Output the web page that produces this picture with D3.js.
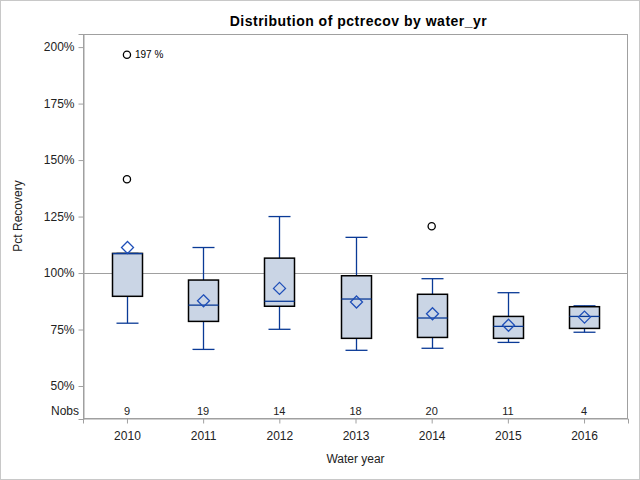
<!DOCTYPE html>
<html><head><meta charset="utf-8">
<script src="https://cdn.jsdelivr.net/npm/d3@7"></script>
<style>body{margin:0;background:#fff}svg{display:block}text{font-family:Arial,"Liberation Sans",sans-serif}</style>
</head><body><div id="chart"></div>
<script>
const years = ["2010","2011","2012","2013","2014","2015","2016"];
const nobs = [9,19,14,18,20,11,4];
const whiskerLow = [77.8,66.2,75.1,65.8,66.7,69.3,73.8];
const q1 = [89.7,78.6,85.3,71.1,71.5,71.1,75.5];
const median = [108.6,85.8,87.5,88.5,80.1,76.4,80.8];
const q3 = [108.7,96.9,106.6,98.8,90.6,80.8,85.1];
const whiskerHigh = [108.7,111.3,125.0,115.8,97.5,91.3,85.5];
const means = [111.3,87.7,93.2,87.2,82.0,76.9,80.5];
const outlierYears = ["2010","2010","2014"];
const outlierValues = [196.6,141.5,120.7];
const outlierLabels = ["197%","",""];
const yTicks = [50,75,100,125,150,175,200];
const refValue = 100;

const W=640,H=480;
const plot={l:83,r:628,t:34,b:419};
const svg=d3.select("#chart").append("svg").attr("width",W).attr("height",H);
svg.append("rect").attr("x",0.5).attr("y",0.5).attr("width",W-1).attr("height",H-1).attr("fill","#fff").attr("stroke","#c8c8c8");

const x=d3.scalePoint().domain(years).range([plot.l,plot.r]).padding(0.577);
const y=d3.scaleLinear().domain([35.4,205.8]).range([plot.b,plot.t]);

svg.append("text").attr("x",(plot.l+plot.r)/2+3).attr("y",25.5).attr("text-anchor","middle")
 .attr("font-size",14).attr("letter-spacing",0.5).attr("font-weight","bold").text("Distribution of pctrecov by water_yr");

// frame
svg.append("rect").attr("x",plot.l+0.5).attr("y",plot.t+0.5).attr("width",plot.r-plot.l-1).attr("height",plot.b-plot.t-1)
 .attr("fill","none").attr("stroke","#a0a0a0");

// reference line
svg.append("line").attr("x1",plot.l).attr("x2",plot.r).attr("y1",Math.round(y(refValue))+0.5).attr("y2",Math.round(y(refValue))+0.5)
 .attr("stroke","#a0a0a0").attr("stroke-width",1);

// axes
const yAxis=d3.axisLeft(y).tickValues(yTicks).tickFormat(d=>d+"%").tickSize(5).tickPadding(4);
const gy=svg.append("g").attr("transform",`translate(${plot.l+0.5},0)`).call(yAxis);
gy.select(".domain").attr("stroke","#a0a0a0");
gy.selectAll(".tick line").attr("stroke","#a0a0a0");
gy.selectAll(".tick text").attr("font-size",12).attr("fill","#222").attr("font-family","Arial,'Liberation Sans',sans-serif");

const xAxis=d3.axisBottom(x).tickSize(5).tickPadding(8);
const gx=svg.append("g").attr("transform",`translate(0,${plot.b-0.5})`).call(xAxis);
gx.select(".domain").attr("stroke","#a0a0a0");
gx.selectAll(".tick line").attr("stroke","#a0a0a0");
gx.selectAll(".tick text").attr("font-size",12).attr("fill","#222").attr("font-family","Arial,'Liberation Sans',sans-serif");

svg.append("text").attr("x",(plot.l+plot.r)/2).attr("y",463).attr("text-anchor","middle").attr("font-size",12).attr("fill","#222").text("Water year");
svg.append("text").attr("transform",`translate(22,216) rotate(-90)`).attr("text-anchor","middle").attr("font-size",12).attr("fill","#222").text("Pct Recovery");

// Nobs
svg.append("text").attr("x",79).attr("y",415).attr("text-anchor","end").attr("font-size",12).attr("fill","#222").text("Nobs");
svg.selectAll(".nobs").data(years).enter().append("text").attr("x",d=>x(d)).attr("y",415).attr("text-anchor","middle")
 .attr("font-size",11).attr("fill","#222").text((d,i)=>nobs[i]);

const blue="#0a3a96", bw=30, cap=22;
const g=svg.append("g");
years.forEach((yr,i)=>{
  const cx=Math.round(x(yr))+0.5;
  g.append("line").attr("x1",cx).attr("x2",cx).attr("y1",y(whiskerLow[i])).attr("y2",y(q1[i])).attr("stroke",blue).attr("stroke-width",1.3);
  g.append("line").attr("x1",cx).attr("x2",cx).attr("y1",y(whiskerHigh[i])).attr("y2",y(q3[i])).attr("stroke",blue).attr("stroke-width",1.3);
  g.append("line").attr("x1",cx-cap/2).attr("x2",cx+cap/2).attr("y1",y(whiskerLow[i])).attr("y2",y(whiskerLow[i])).attr("stroke",blue).attr("stroke-width",1.3);
  g.append("line").attr("x1",cx-cap/2).attr("x2",cx+cap/2).attr("y1",y(whiskerHigh[i])).attr("y2",y(whiskerHigh[i])).attr("stroke",blue).attr("stroke-width",1.3);
  g.append("rect").attr("x",cx-bw/2).attr("y",y(q3[i])).attr("width",bw).attr("height",y(q1[i])-y(q3[i]))
   .attr("fill","#cad5e5").attr("stroke","#000").attr("stroke-width",1.5);
  g.append("line").attr("x1",cx-bw/2).attr("x2",cx+bw/2).attr("y1",y(median[i])).attr("y2",y(median[i])).attr("stroke",blue).attr("stroke-width",1.3);
  const my=y(means[i]), r=6;
  g.append("path").attr("d",`M${cx},${my-r}L${cx+r},${my}L${cx},${my+r}L${cx-r},${my}Z`).attr("fill","none").attr("stroke","#1f4fb8").attr("stroke-width",1.3);
});
outlierYears.forEach((yr,i)=>{
  const cx=x(yr), cy=y(outlierValues[i]);
  g.append("circle").attr("cx",cx).attr("cy",cy).attr("r",3.6).attr("fill","none").attr("stroke","#000").attr("stroke-width",1.3);
  if(outlierLabels[i]) g.append("text").attr("x",cx+8).attr("y",cy+3.5).attr("font-size",10).attr("fill","#000").text(outlierLabels[i].replace("%"," %"));
});
</script></body></html>
